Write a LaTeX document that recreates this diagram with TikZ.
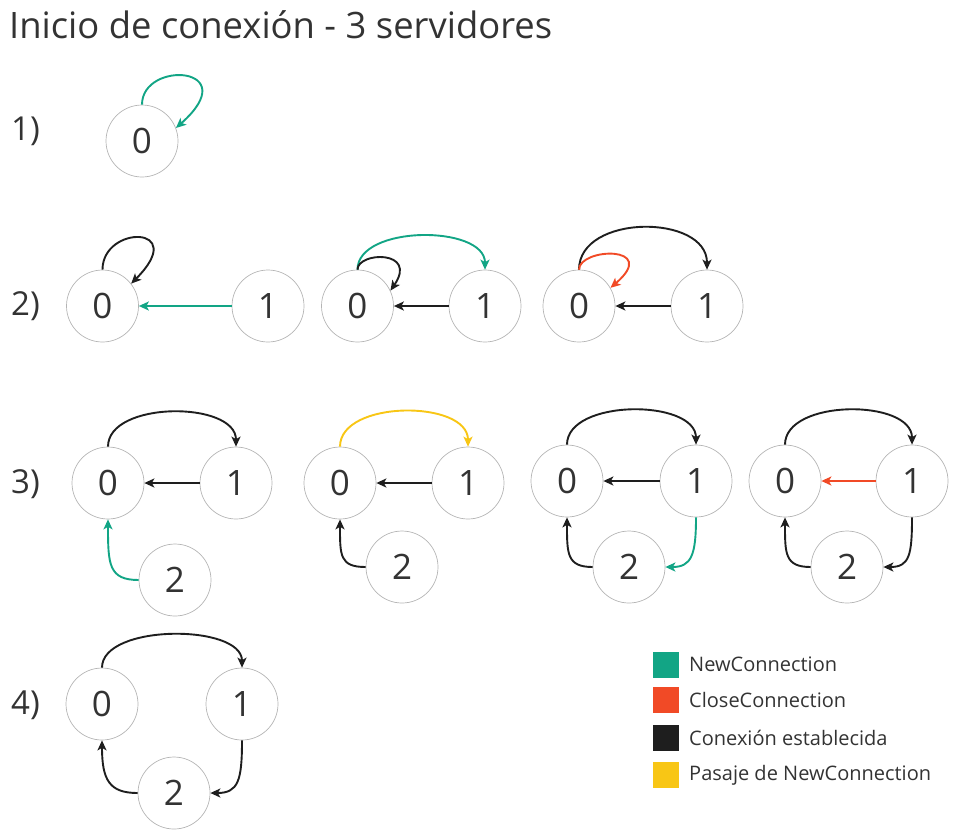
\documentclass[tikz,border=0pt]{standalone}
\usepackage{fontspec}
\setmainfont{Open Sans}
\usetikzlibrary{arrows.meta}
\definecolor{ncgreen}{HTML}{12A585}
\definecolor{ccred}{HTML}{F14A26}
\definecolor{ceblack}{HTML}{1E1E1E}
\definecolor{pnyellow}{HTML}{F8C615}
\definecolor{ringgray}{HTML}{B4B4B4}
\definecolor{txtgray}{HTML}{333333}

\begin{document}
\begin{tikzpicture}
  [x=1pt,y=-1pt,
   srv/.style={circle,draw=ringgray,line width=0.7pt,minimum size=72pt,inner sep=0pt,
     text=txtgray,font=\fontsize{35}{35}\selectfont},
   lbl/.style={anchor=west,inner sep=0pt,text=txtgray,font=\fontsize{33}{33}\selectfont},
   lnk/.style={line width=1.9pt,-{Stealth[length=10pt,width=9pt,inset=2.5pt]}},
   newc/.style={lnk,draw=ncgreen},
   closec/.style={lnk,draw=ccred},
   est/.style={lnk,draw=ceblack},
   pasnc/.style={lnk,draw=pnyellow},
   key/.style={minimum size=26pt,inner sep=0pt},
   keytxt/.style={anchor=west,inner sep=0pt,text=txtgray,font=\fontsize{20}{20}\selectfont}]
  \useasboundingbox (0,0) rectangle (965,836);

  \node [anchor=base west,inner sep=0pt,text=txtgray,font=\fontsize{36.4}{36.4}\selectfont]
    (title) at (9,38) {Inicio de conexión - 3 servidores};

  \node [lbl] (l1) at (11,131) {1)};
  \node [lbl] (l2) at (11,306) {2)};
  \node [lbl] (l3) at (11,484) {3)};
  \node [lbl] (l4) at (11,705) {4)};

  % 1)
  \node [srv] (r1a0) at (142,141) {0};
  \draw [newc] (r1a0.north) .. controls +(0,-45) and +(70,-62) .. (r1a0.21);

  % 2)
  \node [srv] (r2a0) at (102.5,306) {0};
  \node [srv] (r2a1) at (268,306) {1};
  \node [srv] (r2b0) at (357.5,306) {0};
  \node [srv] (r2b1) at (485,306) {1};
  \node [srv] (r2c0) at (579,306) {0};
  \node [srv] (r2c1) at (707,306) {1};

  \draw [est] (r2a0.north) .. controls +(0,-45) and +(59,-59) .. (r2a0.38);
  \draw [newc] (r2a1.west) -- (r2a0.east);
  \draw [newc] (r2b0.north) .. controls +(0,-45) and +(0,-45) .. (r2b1.north);
  \draw [est] (r2b0.north) .. controls +(0,-18) and +(28,-41) .. (r2b0.25);
  \draw [est] (r2c0.north) .. controls +(0,-56) and +(0,-56) .. (r2c1.north);
  \draw [closec] (r2c0.north) .. controls +(0,-22) and +(50,-43) .. (r2c0.30);
  \foreach \g in {b,c}
    \draw [est] (r2\g1.west) -- (r2\g0.east);

  % 3)
  \node [srv] (r3a0) at (108,483) {0};
  \node [srv] (r3a1) at (236,483) {1};
  \node [srv] (r3a2) at (175,580) {2};
  \node [srv] (r3b0) at (340,483) {0};
  \node [srv] (r3b1) at (468,483) {1};
  \node [srv] (r3b2) at (402,567) {2};
  \node [srv] (r3c0) at (567,481) {0};
  \node [srv] (r3c1) at (696,481) {1};
  \node [srv] (r3c2) at (629,567) {2};
  \node [srv] (r3d0) at (785,481) {0};
  \node [srv] (r3d1) at (912,481) {1};
  \node [srv] (r3d2) at (847,567) {2};

  \foreach \g in {a,c,d}
    \draw [est] (r3\g0.north) .. controls +(0,-46) and +(0,-46) .. (r3\g1.north);
  \draw [pasnc] (r3b0.north) .. controls +(0,-47) and +(0,-47) .. (r3b1.north);
  \foreach \g in {a,b,c}
    \draw [est] (r3\g1.west) -- (r3\g0.east);
  \draw [closec] (r3d1.west) -- (r3d0.east);
  \draw [newc] (r3a2.west) .. controls +(-30,0) and +(0,45) .. (r3a0.south);
  \foreach \g in {b,c,d}
    \draw [est] (r3\g2.west) .. controls +(-26,0) and +(0,36) .. (r3\g0.south);
  \draw [newc] (r3c1.south) .. controls +(0,38) and +(26,0) .. (r3c2.east);
  \draw [est] (r3d1.south) .. controls +(0,38) and +(26,0) .. (r3d2.east);

  % 4)
  \node [srv] (r4a0) at (102,704) {0};
  \node [srv] (r4a1) at (242,704) {1};
  \node [srv] (r4a2) at (174,793) {2};

  \draw [est] (r4a0.north) .. controls +(0,-44) and +(0,-44) .. (r4a1.north);
  \draw [est] (r4a1.south) .. controls +(0,40) and +(28,0) .. (r4a2.east);
  \draw [est] (r4a2.west) .. controls +(-28,0) and +(0,40) .. (r4a0.south);

  % leyenda
  \node [key,fill=ncgreen] (k1) at (666,665) {};
  \node [key,fill=ccred] (k2) at (666,700) {};
  \node [key,fill=ceblack] (k3) at (666,738) {};
  \node [key,fill=pnyellow] (k4) at (666,775) {};
  \node [keytxt] (t1) at (689,664) {NewConnection};
  \node [keytxt] (t2) at (689,700) {CloseConnection};
  \node [keytxt] (t3) at (689,738) {Conexión establecida};
  \node [keytxt] (t4) at (689,775) {Pasaje de NewConnection};
\end{tikzpicture}
\end{document}
